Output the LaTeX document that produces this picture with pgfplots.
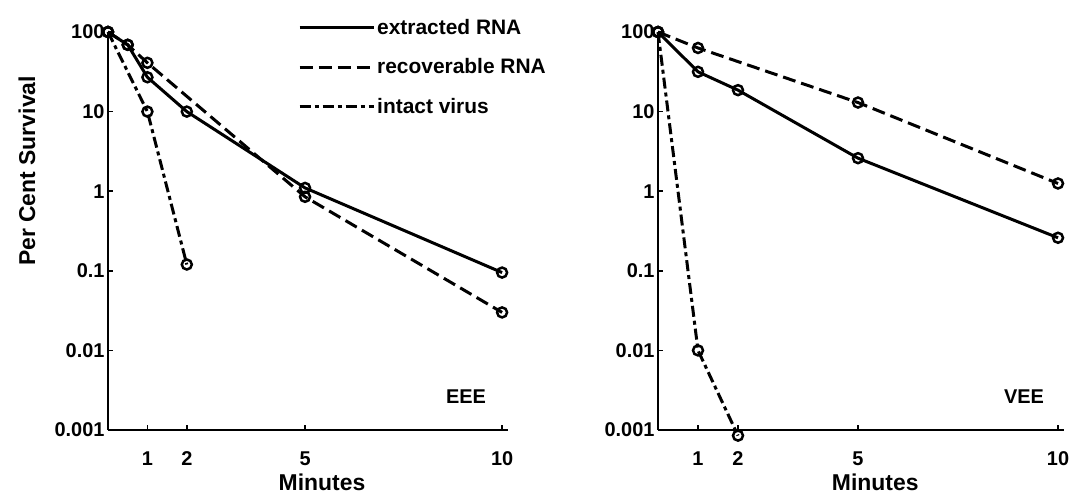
\documentclass[border=0pt]{standalone}
\usepackage{fontspec}
\setmainfont{Liberation Sans}
\usepackage{pgfplots}
\pgfplotsset{compat=1.18}
\pgfkeys{/pgf/number format/assume math mode=true}
\tikzset{
  sExt/.style={line width=3bp, black, mark=o, mark size=5bp, mark options={solid, fill=white, line width=2.5bp}},
  sRec/.style={sExt, dash pattern=on 13bp off 6bp},
  sVir/.style={sExt, dash pattern=on 11bp off 4bp on 4bp off 4bp},
}
\begin{document}
\begin{tikzpicture}[font=\bfseries]
\useasboundingbox (0,0) rectangle (1072bp,500bp);

\begin{axis}[ymode=log, scale only axis, anchor=south west,
    at={(108bp,70bp)}, width=400bp, height=398bp,
    xmin=0, xmax=10.15, ymin=0.001, ymax=100,
    axis x line*=bottom, axis y line*=left,
    axis line style={line width=2.5bp},
    tick align=inside, major tick length=5bp,
    tick style={line width=1.5bp, black},
    xtick={1,2,5,10}, ytick={0.001,0.01,0.1,1,10,100},
    yticklabels={0.001,0.01,0.1,1,10,100},
    yminorticks=false,
    clip=false,
    tick label style={font=\fontsize{20}{22}\selectfont\bfseries},
    xticklabel style={yshift=-18bp},
    xlabel={Minutes},
    xlabel style={font=\fontsize{23}{25}\selectfont\bfseries, at={(axis description cs:0.535,0)}, anchor=north, yshift=-40bp},
  legend cell align=left,
  legend image code/.code={\draw[#1, mark=none] (0bp,0bp) -- (74bp,0bp);},
  legend style={draw=none, fill=none, at={(axis description cs:0.475,1.038)}, anchor=north west,
    font=\fontsize{21}{23}\selectfont\bfseries, row sep=19bp, inner sep=0pt},
]
\addplot[sExt] coordinates {(0,100) (0.5,69) (1,27) (2,10) (5,1.1) (10,0.095)};
\addlegendentry{extracted RNA}
\addplot[sRec] coordinates {(0,100) (0.5,69) (1,41) (5,0.85) (10,0.03)};
\addlegendentry{recoverable RNA}
\addplot[sVir] coordinates {(0,100) (1,10) (2,0.12)};
\addlegendentry{intact virus}
\end{axis}

\begin{axis}[ymode=log, scale only axis, anchor=south west,
    at={(658bp,70bp)}, width=406bp, height=398bp,
    xmin=0, xmax=10.15, ymin=0.001, ymax=100,
    axis x line*=bottom, axis y line*=left,
    axis line style={line width=2.5bp},
    tick align=inside, major tick length=5bp,
    tick style={line width=1.5bp, black},
    xtick={1,2,5,10}, ytick={0.001,0.01,0.1,1,10,100},
    yticklabels={0.001,0.01,0.1,1,10,100},
    yminorticks=false,
    clip=false,
    tick label style={font=\fontsize{20}{22}\selectfont\bfseries},
    xticklabel style={yshift=-18bp},
    xlabel={Minutes},
    xlabel style={font=\fontsize{23}{25}\selectfont\bfseries, at={(axis description cs:0.535,0)}, anchor=north, yshift=-40bp},
]
\addplot[sExt] coordinates {(0,100) (1,31.6) (2,18.6) (5,2.6) (10,0.26)};
\addplot[sRec] coordinates {(0,100) (1,63) (5,13) (10,1.25)};
\addplot[sVir] coordinates {(0,100) (1,0.01) (2,0.00085)};
\end{axis}

\node[rotate=90, font=\fontsize{23}{25}\selectfont\bfseries] at (27bp,329bp) {Per Cent Survival};
\node[font=\fontsize{20}{22}\selectfont\bfseries] at (466bp,103bp) {EEE};
\node[font=\fontsize{20}{22}\selectfont\bfseries] at (1024bp,103bp) {VEE};
\end{tikzpicture}
\end{document}
